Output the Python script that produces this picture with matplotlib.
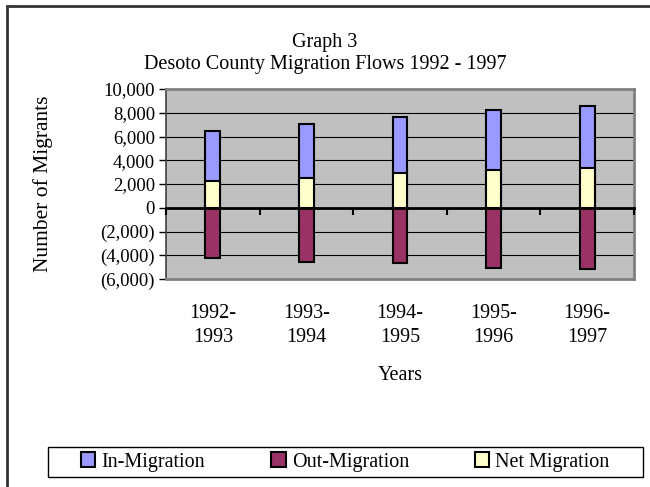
import matplotlib
matplotlib.use("Agg")
import matplotlib.pyplot as plt
from matplotlib.patches import Rectangle, Patch
from matplotlib.ticker import FuncFormatter, FixedLocator
import numpy as np

categories = ["1992-\n1993", "1993-\n1994", "1994-\n1995", "1995-\n1996", "1996-\n1997"]
in_migration = [6500, 7050, 7650, 8250, 8550]
out_migration = [-4250, -4540, -4670, -5090, -5170]
net_migration = [2250, 2480, 2930, 3180, 3380]

plt.rcParams['font.family'] = ['Liberation Serif', 'DejaVu Serif']
FS = 14.5
TFS = 13.5

fig = plt.figure(figsize=(6.5, 4.87), dpi=100)
ax = fig.add_axes([166/650, 1 - 279/487, (634-166)/650, (279-89)/487])
ax.set_facecolor('#C0C0C0')

x = np.arange(len(categories))
w = 0.16
ax.bar(x, in_migration, w, color='#9999FF', edgecolor='black', linewidth=1.5, zorder=3, label='In-Migration')
ax.bar(x, out_migration, w, color='#993366', edgecolor='black', linewidth=1.5, zorder=3, label='Out-Migration')
ax.bar(x, net_migration, w, color='#FFFFCC', edgecolor='black', linewidth=1.5, zorder=4, label='Net Migration')

ax.set_ylim(-6000, 10000)
ax.set_xlim(-0.5, len(categories) - 0.5)
ax.set_yticks(np.arange(-6000, 10001, 2000))

def fmt(v, pos):
    if v < 0:
        return "({:,.0f})".format(-v)
    return "{:,.0f}".format(v)
ax.yaxis.set_major_formatter(FuncFormatter(fmt))
ax.grid(axis='y', color='black', linewidth=0.8, zorder=1)
ax.tick_params(axis='y', direction='out', length=5, width=1, labelsize=TFS, pad=3)

ax.set_xticks(x)
ax.set_xticklabels(categories, fontsize=FS, linespacing=1.35)
ax.tick_params(axis='x', length=0, pad=18)

for s in ['top', 'right', 'bottom']:
    ax.spines[s].set_color('#808080')
    ax.spines[s].set_linewidth(2)
ax.spines['left'].set_color('#404040')
ax.spines['left'].set_linewidth(1.2)

# zero axis with category boundary ticks
sec = ax.secondary_xaxis(6000/16000)
sec.xaxis.set_major_locator(FixedLocator(list(np.arange(-0.5, len(categories), 1.0))))
sec.tick_params(axis='x', direction='out', length=5, width=1.5, labelbottom=False, labeltop=False, bottom=True, top=False)
sec.set_xticklabels([])
sec.spines['bottom'].set_linewidth(2)
sec.spines['bottom'].set_color('black')
for s in ['top', 'left', 'right']:
    sec.spines[s].set_visible(False)
sec.set_zorder(5)

ax.set_ylabel("Number of Migrants", fontsize=FS + 1, labelpad=34)
ax.set_xlabel("Years", fontsize=FS, labelpad=14)

fig.text(0.5, 1 - 42/487, "Graph 3", ha='center', va='center', fontsize=FS)
fig.text(0.5, 1 - 65/487, "Desoto County Migration Flows 1992 - 1997", ha='center', va='center', fontsize=FS)

handles = [Patch(facecolor=c, edgecolor='black', linewidth=1.5) for c in ['#9999FF', '#993366', '#FFFFCC']]
leg = fig.legend(handles, ['In-Migration', 'Out-Migration', 'Net Migration'],
                 loc='center', bbox_to_anchor=(48/650, 1 - 477/487, (643-48)/650, (477-447)/487),
                 ncol=3, fontsize=FS, frameon=False,
                 handlelength=0.7, handleheight=0.7, handletextpad=0.3, borderaxespad=0, columnspacing=3.3)
fig.patches.append(Rectangle((48/650, 1 - 477/487), (643-48)/650, (477-447)/487, transform=fig.transFigure,
                             fill=False, edgecolor='black', linewidth=1))

# outer frame of chart area
fig.patches.append(Rectangle((7/650, -0.2), 1.2, 1.2 - 6/487, transform=fig.transFigure,
                             fill=False, edgecolor='#333333', linewidth=2))

fig.savefig("out.png", dpi=100)
